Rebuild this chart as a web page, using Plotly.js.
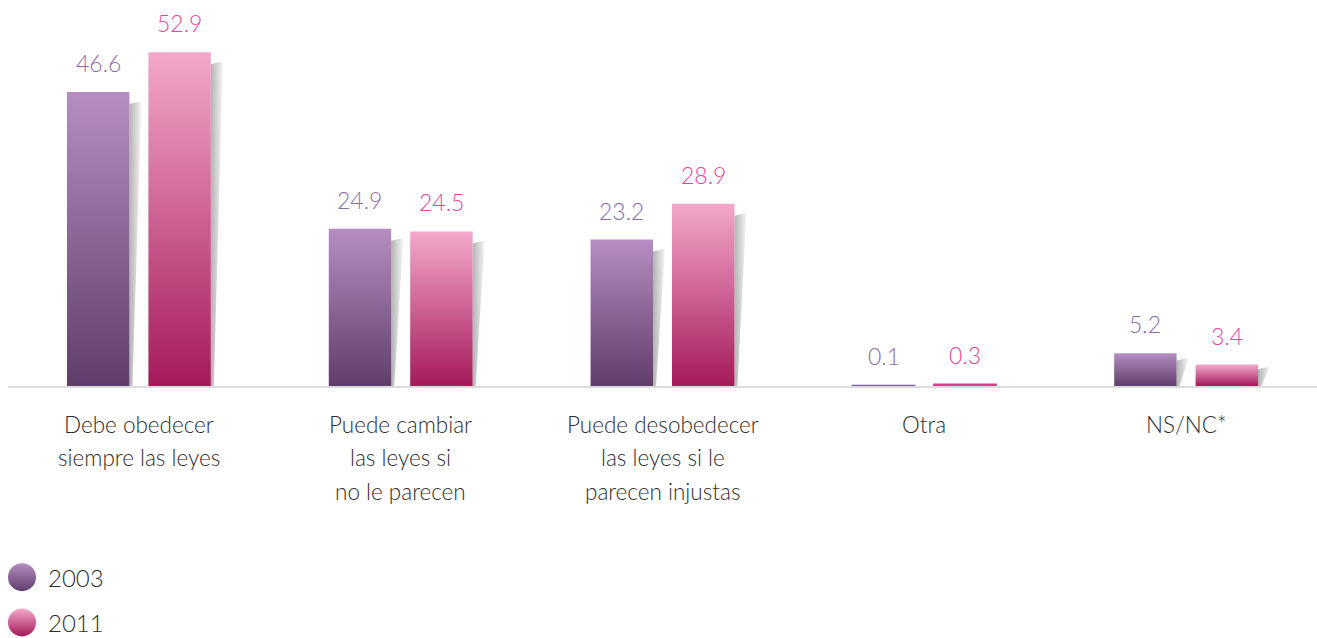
<!DOCTYPE html>
<html><head><meta charset="utf-8">
<script src="https://cdn.plot.ly/plotly-3.0.1.min.js"></script>
<style>html,body{margin:0;padding:0;background:#fff;}#chart{width:1317px;height:638px;}</style>
</head><body><div id="chart"></div>
<script>
// ---- data ----
const categories = ["Debe obedecer<br>siempre las leyes", "Puede cambiar<br>las leyes si<br>no le parecen", "Puede desobedecer<br>las leyes si le<br>parecen injustas", "Otra", "NS/NC*"];
const seriesNames = ["2003", "2011"];
const values2003 = [46.6, 24.9, 23.2, 0.1, 5.2];
const values2011 = [52.9, 24.5, 28.9, 0.3, 3.4];

// ---- style ----
const FONT = 'Lato';
const barColors = ['#8a6699', '#d2568f'];
const labelColors = ['#8c6ca8', '#e0489a'];
const thinColors = ['#7d5f9e', '#d93f8f'];
const gradStops = [[['0', '#b58dc2'], ['1', '#603e6c']], [['0', '#f3a8cb'], ['1', '#a51a5a']]];
const BARGAP = 0.378, GROUPGAP = 0.233;
const d = (1 - BARGAP) / 4;
const idx = categories.map((c, i) => i);

const data = [
  {type: 'bar', x: idx, y: values2003, name: seriesNames[0], marker: {color: barColors[0]}, showlegend: false, hoverinfo: 'skip'},
  {type: 'bar', x: idx, y: values2011, name: seriesNames[1], marker: {color: barColors[1]}, showlegend: false, hoverinfo: 'skip'},
  {type: 'scatter', mode: 'markers', x: [null], y: [null], name: seriesNames[0], legendgroup: 'a', marker: {size: 16, color: barColors[0]}},
  {type: 'scatter', mode: 'markers', x: [null], y: [null], name: seriesNames[1], legendgroup: 'b', marker: {size: 16, color: barColors[1]}}
];

const annotations = [];
[values2003, values2011].forEach((vals, s) => {
  vals.forEach((v, i) => {
    annotations.push({x: i + (s === 0 ? -d : d), y: v, xref: 'x', yref: 'y', text: v.toFixed(1), showarrow: false,
      yanchor: 'middle', yshift: 29, font: {family: FONT, weight: 300, size: 23, color: labelColors[s]}});
  });
});
categories.forEach((c, i) => {
  c.split('<br>').forEach((line, k) => {
    annotations.push({x: i, y: 0, xref: 'x', yref: 'y', text: line, showarrow: false, yanchor: 'middle',
      yshift: -(38 + 33.5 * k), font: {family: FONT, weight: 300, size: 22.5, color: '#2e2e2e'}});
  });
});

const layout = {
  width: 1317, height: 638,
  margin: {l: 8, r: 0, t: 20, b: 252, autoexpand: false},
  paper_bgcolor: '#ffffff', plot_bgcolor: '#ffffff',
  barmode: 'group', bargap: BARGAP, bargroupgap: GROUPGAP,
  xaxis: {type: 'linear', range: [-0.5, 4.5], showline: true, linecolor: '#dcdcdc', linewidth: 2,
          showticklabels: false, ticks: '', showgrid: false, zeroline: false},
  yaxis: {range: [0, 58], showticklabels: false, ticks: '', showgrid: false, zeroline: false, showline: false},
  showlegend: true,
  legend: {x: 0, xanchor: 'left', y: -0.462, yanchor: 'top', traceorder: 'grouped', tracegroupgap: 11,
           font: {family: FONT, weight: 300, size: 24, color: '#2e2e2e'}, bgcolor: 'rgba(0,0,0,0)'},
  annotations: annotations
};

const gd = document.getElementById('chart');
Plotly.newPlot(gd, data, layout, {staticPlot: true}).then(decorate);

function decorate() {
  const NS = 'http://www.w3.org/2000/svg';
  const svg = gd.querySelector('svg.main-svg');
  let defs = svg.querySelector('defs');
  if (!defs) { defs = document.createElementNS(NS, 'defs'); svg.insertBefore(defs, svg.firstChild); }
  function lin(id, stops, horiz) {
    const g = document.createElementNS(NS, 'linearGradient');
    g.setAttribute('id', id);
    g.setAttribute('x1', '0'); g.setAttribute('y1', '0');
    g.setAttribute('x2', horiz ? '1' : '0'); g.setAttribute('y2', horiz ? '0' : '1');
    stops.forEach(s => {
      const st = document.createElementNS(NS, 'stop');
      st.setAttribute('offset', s[0]); st.setAttribute('stop-color', s[1]);
      g.appendChild(st);
    });
    defs.appendChild(g);
  }
  lin('grad0', gradStops[0]);
  lin('grad1', gradStops[1]);
  lin('gradShadow', [['0', '#b3b3b3'], ['1', '#f5f5f5']], true);
  gd.querySelectorAll('.barlayer .trace.bars').forEach((tr, ti) => {
    tr.querySelectorAll('.point path').forEach(p => {
      const bb = p.getBBox();
      if (bb.height < 3) {
        p.style.fill = thinColors[ti];
        p.style.stroke = thinColors[ti];
        p.style.strokeWidth = '1.2px';
        p.style.strokeOpacity = '1';
        return;
      }
      p.style.fill = 'url(#grad' + ti + ')';
      if (bb.height > 12) {
        const x1 = bb.x + bb.width, top = bb.y, bot = bb.y + bb.height;
        const off = Math.min(12, bb.height * 0.22);
        const sh = document.createElementNS(NS, 'path');
        sh.setAttribute('d', `M${x1},${top + off} L${x1 + 12},${top + off - 3} L${x1 + 3},${bot} L${x1},${bot} Z`);
        sh.style.fill = 'url(#gradShadow)';
        p.parentNode.insertBefore(sh, p);
      }
    });
  });
  gd.querySelectorAll('.legend .traces').forEach((t, i) => {
    const pt = t.querySelector('path.scatterpts');
    if (pt) {
      pt.style.fill = 'url(#grad' + i + ')';
      pt.setAttribute('transform', 'translate(14,0) scale(1.75)');
    }
  });
}
</script>
</body></html>
